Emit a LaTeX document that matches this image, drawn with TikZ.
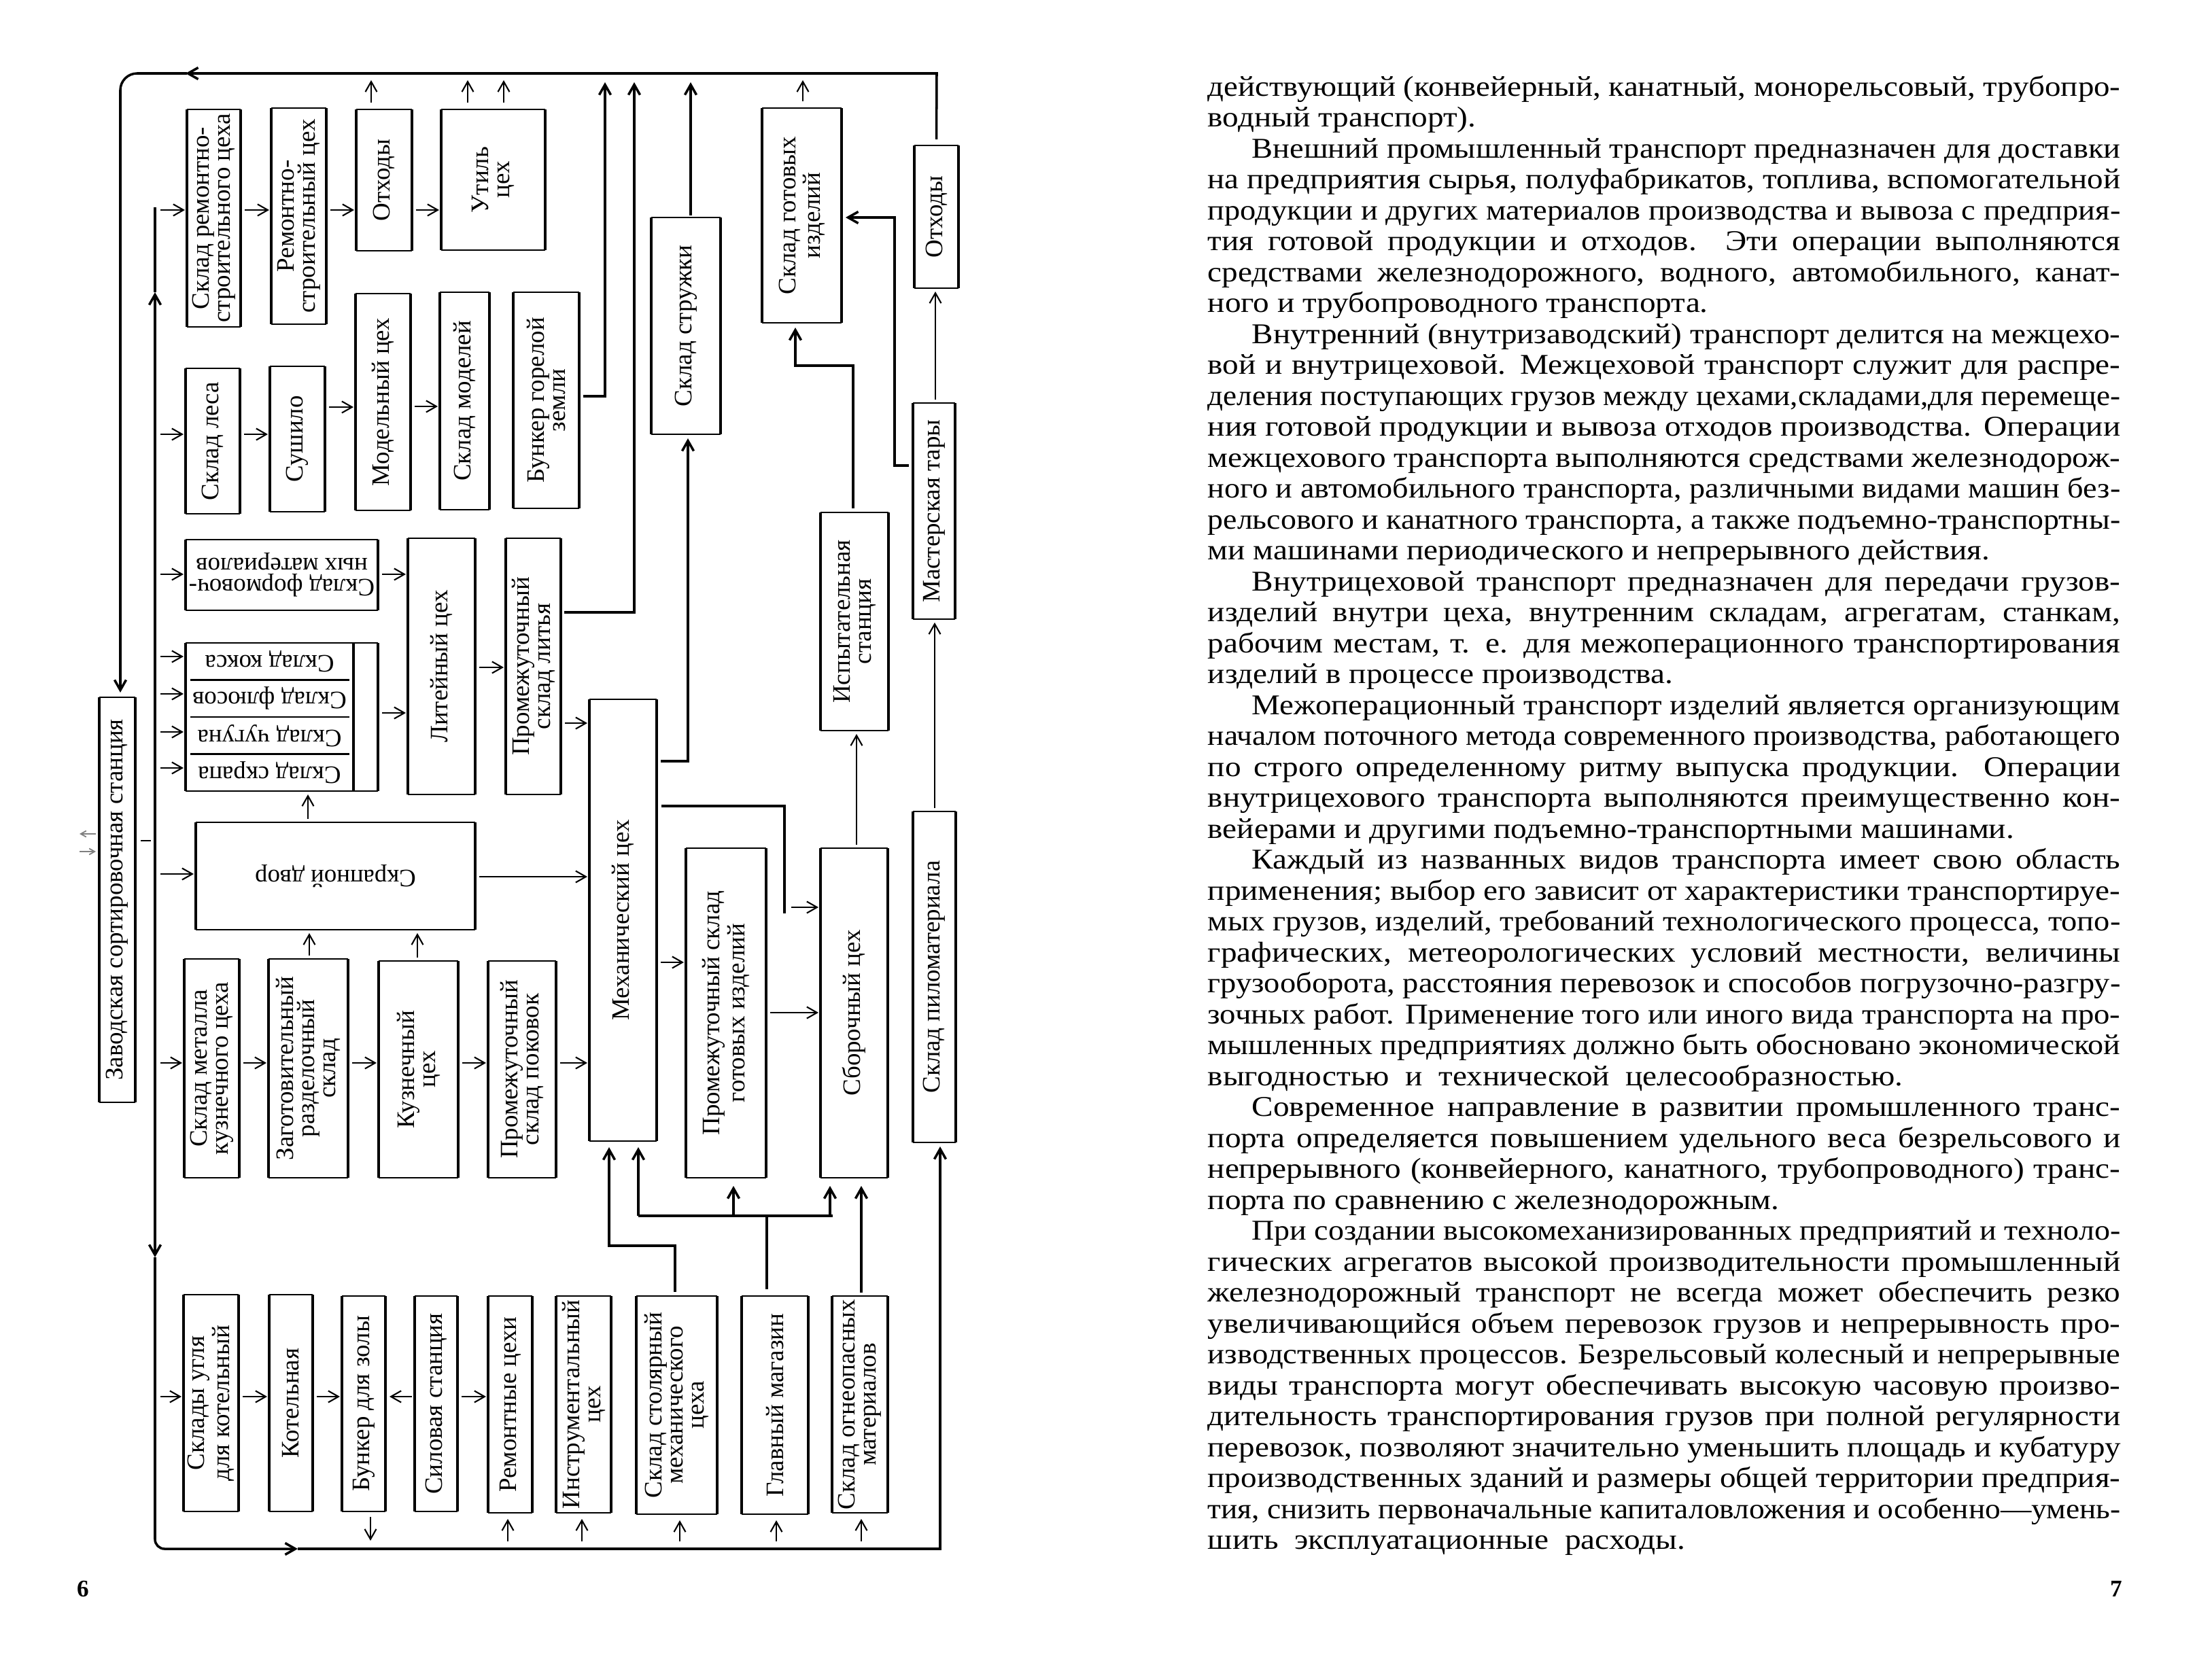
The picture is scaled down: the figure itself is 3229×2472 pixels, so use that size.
\documentclass[tikz,border=0pt]{standalone}
\usepackage{fontspec}
\usepackage{graphicx}
\setmainfont{Liberation Serif}
\newfontfamily\bodyf[FakeStretch=1.12]{Liberation Serif}
\usetikzlibrary{arrows.meta,fit,calc}
\newsavebox\lbox
\newlength\tw
\newcommand\jline[2]{\setlength\tw{#1}\sbox\lbox{#2}\ifdim\wd\lbox>\tw\resizebox{\tw}{\ht\lbox}{\usebox\lbox}\else\makebox[\tw][s]{#2}\fi}
\newcommand\txJ[2]{\node[txt] (t#1) at (1776,{141+45.5*(#1-1)}) {\jline{13.42cm}{#2}};}
\newcommand\txI[2]{\node[txt] (t#1) at (1841,{141+45.5*(#1-1)}) {\jline{12.77cm}{#2}};}
\newcommand\txE[2]{\node[txt] (t#1) at (1776,{141+45.5*(#1-1)}) {#2};}
\newcommand\bfr[5]{%
  \coordinate (#1-a) at (#2,#3); \coordinate (#1-b) at (#4,#5);
  \node[fit=(#1-a)(#1-b), inner sep=0pt, outer sep=0pt] (#1) {};
  \draw[vedge] (#1.north west) -- (#1.south west) (#1.north east) -- (#1.south east);
  \draw[hedge] (#1.north west) -- (#1.north east) (#1.south west) -- (#1.south east);}
\newcommand\bx[7]{\bfr{#1}{#2}{#3}{#4}{#5}\node[btext, rotate=#6] (#1-t) at (#1.center) {#7};}
\newcommand\cel[6]{%
  \coordinate (#1-a) at (#2,#3); \coordinate (#1-b) at (#4,#5);
  \node[fit=(#1-a)(#1-b), inner sep=0pt, outer sep=0pt] (#1) {};
  \node[btext, rotate=180] (#1-t) at (#1.center) {#6};}
\newcommand\ha[3]{\path (0,#3) coordinate (hy); \draw[sarr] ($(#1.east|-hy)+(6,0)$) -- ($(#2.west|-hy)+(-3,0)$);}
\newcommand\hb[2]{\path (0,#2) coordinate (hy); \draw[sarr] ($(bus|-hy)+(8,0)$) -- ($(#1.west|-hy)+(-3,0)$);}
\newcommand\va[3]{\path (#3,0) coordinate (vx); \draw[sarr] ($(#1.north-|vx)+(0,-5)$) -- ($(#2.south-|vx)+(0,5)$);}
\newcommand\vt[2]{\path (#2,0) coordinate (vx); \draw[sarr] ($(#1.north-|vx)+(0,-10)$) -- ($(vx|-topR)+(0,10)$);}
\newcommand\vb[2]{\path (#2,0) coordinate (vx); \draw[sarr] ($(vx|-busB)+(0,-11)$) -- ($(#1.south-|vx)+(0,9)$);}
\tikzset{
  vedge/.style={line width=1.3pt},
  hedge/.style={line width=0.7pt},
  btext/.style={inner sep=0pt, align=center, font=\fontsize{10.5}{8.8}\selectfont},
  mline/.style={line width=1pt},
  arrowend/.style={-{Straight Barb[length=0.15cm,width=0.17cm]}},
  sarr/.style={line width=0.6pt, arrowend},
  txt/.style={anchor=base west, inner sep=0pt, font=\bodyf\fontsize{12}{14}\selectfont},
  pnum/.style={inner sep=0pt, font=\bfseries\fontsize{10}{12}\selectfont},
}
\begin{document}
\begin{tikzpicture}[x=0.01cm, y=-0.01cm]
\fill[white] (0,0) rectangle (3229,2472);
\useasboundingbox (0,0) rectangle (3229,2472);

% ---------------- boxes ----------------
\bx{st}{146}{1026}{199}{1622}{90}{Заводская сортировочная станция}
\bx{A1}{275}{161}{354}{481}{90}{Склад ремонтно-\\строительного цеха}
\bx{A2}{399}{159}{480}{477}{90}{Ремонтно-\\строительный цех}
\bx{A3}{524}{161}{606}{369}{90}{Отходы}
\bx{A4}{649}{161}{802}{368}{90}{Утиль\\цех}
\bx{B1}{273}{542}{353}{756}{90}{Склад леса}
\bx{B2}{397}{539}{478}{753}{90}{Сушило}
\bx{B3}{523}{432}{604}{751}{90}{Модельный цех}
\bx{B4}{647}{430}{720}{750}{90}{Склад моделей}
\bx{B5}{755}{430}{852}{748}{90}{Бункер горелой\\земли}
\bx{C1}{273}{794}{556}{898}{180}{Склад формовоч-\\ных материалов}
\bfr{G}{273}{946}{556}{1164}
\cel{D1}{273}{946}{520}{1000.5}{Склад кокса}
\cel{D2}{273}{1000.5}{520}{1055}{Склад флюсов}
\cel{D3}{273}{1055}{520}{1109.5}{Склад чугуна}
\cel{D4}{273}{1109.5}{520}{1164}{Склад скрапа}
\draw[vedge] (D1.north east) -- (D4.south east);
\draw[hedge] ([xshift=0.07cm]D1.south west) -- ([xshift=-0.06cm]D1.south east)
             ([xshift=0.07cm]D2.south west) -- ([xshift=-0.06cm]D2.south east)
             ([xshift=0.07cm]D3.south west) -- ([xshift=-0.06cm]D3.south east);
\bx{L}{600}{792}{699}{1169}{90}{Литейный цех}
\bx{PL}{744}{792}{825}{1169}{90}{Промежуточный\\склад литья}
\bx{SD}{288}{1210}{699}{1368}{180}{Скрапной двор}
\bx{E1}{271}{1411}{352}{1733}{90}{Склад металла\\кузнечного цеха}
\bx{E2}{395}{1411}{512}{1733}{90}{Заготовительный\\разделочный\\склад}
\bx{E3}{557}{1414}{674}{1733}{90}{Кузнечный\\цех}
\bx{E4}{718}{1414}{818}{1733}{90}{Промежуточный\\склад поковок}
\bx{M}{867}{1029}{966}{1679}{90}{Механический цех}
\bx{PG}{1009}{1248}{1127}{1733}{90}{Промежуточный склад\\готовых изделий}
\bx{SB}{1207}{1248}{1306}{1733}{90}{Сборочный цех}
\bx{IS}{1207}{754}{1307}{1075}{90}{Испытательная\\станция}
\bx{SG}{1121}{159}{1238}{475}{90}{Склад готовых\\изделий}
\bx{SS}{958}{320}{1060}{639}{90}{Склад стружки}
\bx{O2}{1345}{214}{1410}{424}{90}{Отходы}
\bx{MT}{1343}{593}{1405}{911}{90}{Мастерская тары}
\bx{SP}{1343}{1194}{1406}{1681}{90}{Склад пиломатериала}
\bx{F1}{270}{1905}{351}{2224}{90}{Склады угля\\для котельный}
\bx{F2}{396}{1905}{460}{2224}{90}{Котельная}
\bx{F3}{503}{1907}{567}{2224}{90}{Бункер для золы}
\bx{F4}{610}{1907}{673}{2224}{90}{Силовая станция}
\bx{F5}{718}{1907}{783}{2226}{90}{Ремонтные цехи}
\bx{F6}{818}{1907}{899}{2226}{90}{Инструментальный\\цех}
\bx{F7}{936}{1907}{1055}{2228}{90}{Склад столярный\\механического\\цеха}
\bx{F8}{1091}{1907}{1189}{2228}{90}{Главный магазин}
\bx{F9}{1224}{1907}{1306}{2226}{90}{Склад огнеопасных\\материалов}

% ---------------- trunk lines ----------------
\coordinate (bus) at (228,0);
\coordinate (busB) at (228,2279);
\coordinate (topR) at (1378,108);
\coordinate (lx) at (177,0);
\draw[mline, arrowend] ($(O2.north)+(0,-9)$) -- (topR) -- (273,108);
\draw[mline, arrowend, rounded corners=7] (275,108) -- (lx|-topR) -- ($(st.north-|lx)+(0,-7)$);
\path (0,1237) coordinate (sy);
\draw[line width=0.6pt] ($(st.east|-sy)+(8,0)$) -- ($(bus|-sy)+(-6,0)$);
\draw[mline, arrowend] (bus|-sy) -- (228,430);
\draw[mline] (228,430) -- (228,305);
\draw[mline, arrowend] (bus|-sy) -- (228,1850);
\draw[mline, arrowend, rounded corners=4] (228,1850) -- (busB) -- (438,2279);
\path (1383,0) coordinate (vx);
\draw[mline, arrowend] (438,2279) -- (vx|-busB) -- ($(SP.south-|vx)+(0,6)$);
\draw[line width=0.5pt, gray, -{Straight Barb[length=0.08cm,width=0.09cm]}] (141,1227) -- (117,1227);
\draw[line width=0.5pt, gray, -{Straight Barb[length=0.08cm,width=0.09cm]}] (117,1253) -- (141,1253);

% bus feeders
\hb{A1}{309} \hb{B1}{639} \hb{C1}{845}
\hb{D1}{966} \hb{D2}{1021} \hb{D3}{1077} \hb{D4}{1130}
\hb{SD}{1286} \hb{E1}{1564} \hb{F1}{2055}

% row arrows
\ha{A1}{A2}{309} \ha{A2}{A3}{309} \ha{A3}{A4}{309}
\ha{B1}{B2}{639} \ha{B2}{B3}{599} \ha{B3}{B4}{598}
\ha{C1}{L}{845} \ha{G}{L}{1049} \ha{L}{PL}{982} \ha{PL}{M}{1064} \ha{SD}{M}{1290}
\ha{E1}{E2}{1564} \ha{E2}{E3}{1564} \ha{E3}{E4}{1564} \ha{E4}{M}{1564}
\ha{M}{PG}{1416} \ha{PG}{SB}{1490}
\ha{F1}{F2}{2055} \ha{F2}{F3}{2055} \ha{F4}{F5}{2055}
\path (0,2055) coordinate (hy);
\draw[sarr] ($(F4.west|-hy)+(-4,0)$) -- ($(F3.east|-hy)+(6,0)$);

% vertical arrows
\va{SD}{G}{453} \va{E2}{SD}{455} \va{E3}{SD}{614}
\va{SB}{IS}{1260} \va{MT}{O2}{1376} \va{SP}{MT}{1375}
\vt{A3}{546} \vt{A4}{688} \vt{A4}{741} \vt{SG}{1181}
\vb{F5}{747} \vb{F6}{856} \vb{F7}{1000} \vb{F8}{1142} \vb{F9}{1267}
\path (545,0) coordinate (vx);
\draw[sarr] ($(F3.south-|vx)+(0,8)$) -- ($(vx|-busB)+(0,-12)$);

% long connectors to the top line
\path (0,583) coordinate (hy); \path (890,0) coordinate (vx);
\draw[mline, arrowend] ($(B5.east|-hy)+(6,0)$) -- (vx|-hy) -- ($(vx|-topR)+(0,13)$);
\path (0,901) coordinate (hy); \path (933,0) coordinate (vx);
\draw[mline, arrowend] ($(PL.east|-hy)+(5,0)$) -- (vx|-hy) -- ($(vx|-topR)+(0,13)$);
\path (1016,0) coordinate (vx);
\draw[mline, arrowend] ($(SS.north-|vx)+(0,-3)$) -- ($(vx|-topR)+(0,13)$);

% Механический цех outputs
\path (0,1120) coordinate (hy); \path (1012,0) coordinate (vx);
\draw[mline, arrowend] ($(M.east|-hy)+(6,0)$) -- (vx|-hy) -- ($(SS.south-|vx)+(0,6)$);
\path (0,1186) coordinate (hy); \path (1154,0) coordinate (vx);
\draw[mline] ($(M.east|-hy)+(7,0)$) -- (vx|-hy) -- (1154,1344);
\path (0,1335) coordinate (hy);
\draw[sarr] (1164,1335) -- ($(SB.west|-hy)+(-3,0)$);

% Испытательная станция -> Склад готовых изделий
\path (1255,0) coordinate (vx); \path (1170,0) coordinate (vx2); \path (0,538) coordinate (hy);
\draw[mline, arrowend] ($(IS.north-|vx)+(0,-6)$) -- (vx|-hy) -- (vx2|-hy) -- ($(SG.south-|vx2)+(0,7)$);
% Мастерская тары -> Склад готовых изделий
\path (0,685) coordinate (hy); \path (1316,0) coordinate (vx); \path (0,320) coordinate (hy2);
\draw[mline, arrowend] ($(MT.west|-hy)+(-6,0)$) -- (vx|-hy) -- (vx|-hy2) -- ($(SG.east|-hy2)+(6,0)$);

% bottom feeders
\path (993,0) coordinate (vx); \path (896,0) coordinate (vx2); \path (0,1833) coordinate (hy);
\draw[mline, arrowend] ($(F7.north-|vx)+(0,-6)$) -- (vx|-hy) -- (vx2|-hy) -- ($(M.south-|vx2)+(0,9)$);
\path (1128,0) coordinate (vx); \path (0,1789) coordinate (hy);
\draw[mline] ($(F8.north-|vx)+(0,-10)$) -- (vx|-hy);
\path (939,0) coordinate (vx); \path (1225,0) coordinate (vx2);
\draw[mline] (vx|-hy) -- (vx2|-hy);
\draw[mline, arrowend] (vx|-hy) -- ($(M.south-|vx)+(0,9)$);
\path (1079,0) coordinate (vx);
\draw[mline, arrowend] (vx|-hy) -- ($(PG.south-|vx)+(0,12)$);
\path (1221,0) coordinate (vx);
\draw[mline, arrowend] (vx|-hy) -- ($(SB.south-|vx)+(0,12)$);
\path (1267,0) coordinate (vx);
\draw[mline, arrowend] ($(F9.north-|vx)+(0,-5)$) -- ($(SB.south-|vx)+(0,12)$);

% page numbers
\node[pnum] (p6) at (122,2338) {6};
\node[pnum] (p7) at (3113,2338) {7};

% ---------------- text page ----------------
\txJ{1}{действующий (конвейерный, канатный, монорельсовый, трубопро-}
\txE{2}{водный транспорт).}
\txI{3}{Внешний промышленный транспорт предназначен для доставки}
\txJ{4}{на предприятия сырья, полуфабрикатов, топлива, вспомогательной}
\txJ{5}{продукции и других материалов производства и вывоза с предприя-}
\txJ{6}{тия готовой продукции и отходов. Эти операции выполняются}
\txJ{7}{средствами железнодорожного, водного, автомобильного, канат-}
\txE{8}{ного и трубопроводного транспорта.}
\txI{9}{Внутренний (внутризаводский) транспорт делится на межцехо-}
\txJ{10}{вой и внутрицеховой. Межцеховой транспорт служит для распре-}
\txJ{11}{деления поступающих грузов между цехами,складами,для перемеще-}
\txJ{12}{ния готовой продукции и вывоза отходов производства. Операции}
\txJ{13}{межцехового транспорта выполняются средствами железнодорож-}
\txJ{14}{ного и автомобильного транспорта, различными видами машин без-}
\txJ{15}{рельсового и канатного транспорта, а также подъемно-транспортны-}
\txE{16}{ми машинами периодического и непрерывного действия.}
\txI{17}{Внутрицеховой транспорт предназначен для передачи грузов-}
\txJ{18}{изделий внутри цеха, внутренним складам, агрегатам, станкам,}
\txJ{19}{рабочим местам, т. е. для межоперационного транспортирования}
\txE{20}{изделий в процессе производства.}
\txI{21}{Межоперационный транспорт изделий является организующим}
\txJ{22}{началом поточного метода современного производства, работающего}
\txJ{23}{по строго определенному ритму выпуска продукции. Операции}
\txJ{24}{внутрицехового транспорта выполняются преимущественно кон-}
\txE{25}{вейерами и другими подъемно-транспортными машинами.}
\txI{26}{Каждый из названных видов транспорта имеет свою область}
\txJ{27}{применения; выбор его зависит от характеристики транспортируе-}
\txJ{28}{мых грузов, изделий, требований технологического процесса, топо-}
\txJ{29}{графических, метеорологических условий местности, величины}
\txJ{30}{грузооборота, расстояния перевозок и способов погрузочно-разгру-}
\txJ{31}{зочных работ. Применение того или иного вида транспорта на про-}
\txJ{32}{мышленных предприятиях должно быть обосновано экономической}
\txE{33}{выгодностью\ \ и\ \ технической\ \ целесообразностью.}
\txI{34}{Современное направление в развитии промышленного транс-}
\txJ{35}{порта определяется повышением удельного веса безрельсового и}
\txJ{36}{непрерывного (конвейерного, канатного, трубопроводного) транс-}
\txE{37}{порта по сравнению с железнодорожным.}
\txI{38}{При создании высокомеханизированных предприятий и техноло-}
\txJ{39}{гических агрегатов высокой производительности промышленный}
\txJ{40}{железнодорожный транспорт не всегда может обеспечить резко}
\txJ{41}{увеличивающийся объем перевозок грузов и непрерывность про-}
\txJ{42}{изводственных процессов. Безрельсовый колесный и непрерывные}
\txJ{43}{виды транспорта могут обеспечивать высокую часовую произво-}
\txJ{44}{дительность транспортирования грузов при полной регулярности}
\txJ{45}{перевозок, позволяют значительно уменьшить площадь и кубатуру}
\txJ{46}{производственных зданий и размеры общей территории предприя-}
\txJ{47}{тия, снизить первоначальные капиталовложения и особенно—умень-}
\txE{48}{шить\ \ эксплуатационные\ \ расходы.}
\end{tikzpicture}
\end{document}
